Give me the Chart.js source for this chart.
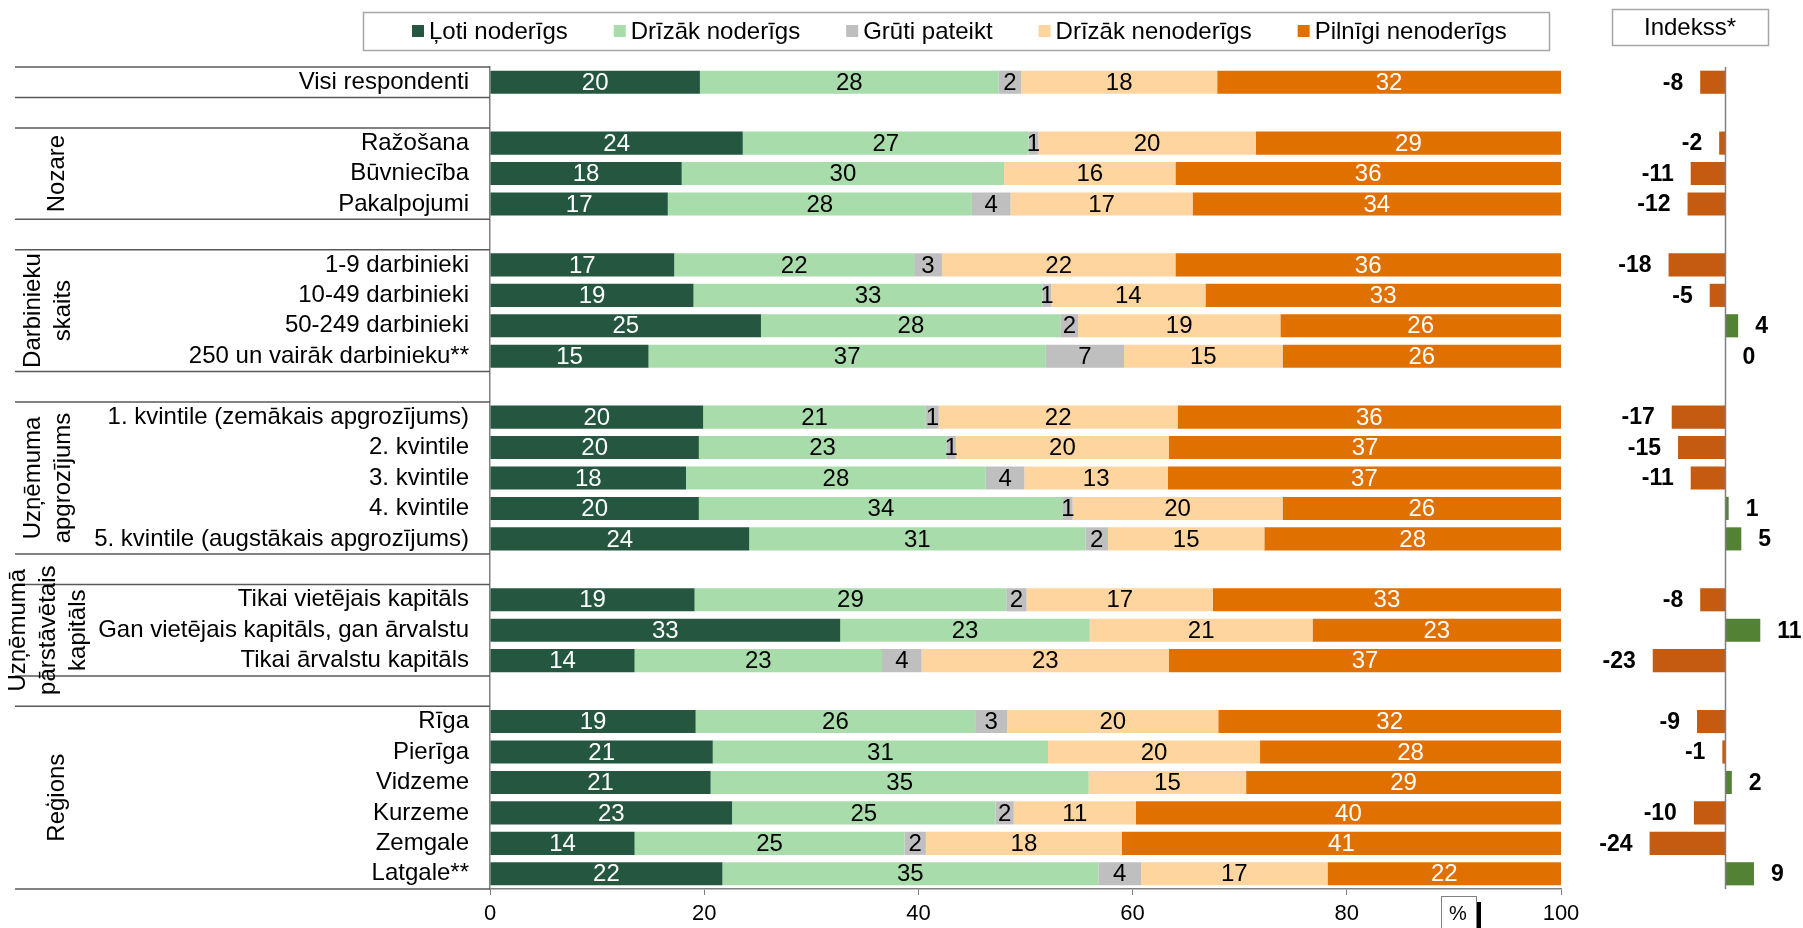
<!DOCTYPE html>
<html lang="lv">
<head>
<meta charset="utf-8">
<title>Indekss</title>
<script src="https://cdn.jsdelivr.net/npm/chart.js@4.4.1/dist/chart.umd.min.js"></script>
<style>
    html, body { margin: 0; padding: 0; background: #fff; }
    #wrap { position: relative; width: 1803px; height: 928px; overflow: hidden; }
    #bars-chart { position: absolute; left: 0; top: 0; }
    #index-chart { position: absolute; left: 1580px; top: 0; }
</style>
</head>
<body>
<div id="wrap">
    <canvas id="bars-chart" width="1803" height="928"></canvas>
    <canvas id="index-chart" width="223" height="928"></canvas>
</div>
<script>
"use strict";

// rows of the chart, '' = empty separator row
const categories = [
    'Visi respondenti', '',
    'Ražošana', 'Būvniecība', 'Pakalpojumi', '',
    '1-9 darbinieki', '10-49 darbinieki', '50-249 darbinieki', '250 un vairāk darbinieku**', '',
    '1. kvintile (zemākais apgrozījums)', '2. kvintile', '3. kvintile', '4. kvintile', '5. kvintile (augstākais apgrozījums)', '',
    'Tikai vietējais kapitāls', 'Gan vietējais kapitāls, gan ārvalstu', 'Tikai ārvalstu kapitāls', '',
    'Rīga', 'Pierīga', 'Vidzeme', 'Kurzeme', 'Zemgale', 'Latgale**'
];

const seriesNames = ['Ļoti noderīgs', 'Drīzāk noderīgs', 'Grūti pateikt', 'Drīzāk nenoderīgs', 'Pilnīgi nenoderīgs'];

const lotiNoderigs = [19.6, null, 23.6, 17.9, 16.6, null, 17.2, 19.0, 25.3, 14.8, null, 19.9, 19.5, 18.3, 19.5, 24.2, null, 19.1, 32.7, 13.5, null, 19.2, 20.8, 20.6, 22.6, 13.5, 21.7];
const drizakNoderigs = [27.9, null, 26.7, 30.1, 28.4, null, 22.4, 32.6, 28.0, 37.1, null, 20.8, 23.1, 28.0, 34.0, 31.4, null, 29.1, 23.3, 23.1, null, 26.1, 31.3, 35.3, 24.6, 25.2, 35.1];
const grutiPateikt = [2.1, null, 0.9, 0, 3.6, null, 2.6, 0.8, 1.6, 7.3, null, 1.2, 0.9, 3.6, 0.9, 2.1, null, 1.9, 0, 3.7, null, 3.0, 0, 0, 1.7, 2.0, 4.0];
const drizakNenoderigs = [18.3, null, 20.3, 16.0, 17.0, null, 21.8, 14.4, 18.9, 14.8, null, 22.3, 19.9, 13.4, 19.6, 14.6, null, 17.4, 20.8, 23.1, null, 19.7, 19.8, 14.7, 11.4, 18.3, 17.4];
const pilnigiNenoderigs = [32.1, null, 28.5, 36.0, 34.4, null, 36.0, 33.2, 26.2, 26.0, null, 35.8, 36.6, 36.7, 26.0, 27.7, null, 32.5, 23.2, 36.6, null, 32.0, 28.1, 29.4, 39.7, 41.0, 21.8];

const indekss = [-8, null, -2, -11, -12, null, -18, -5, 4, 0, null, -17, -15, -11, 1, 5, null, -8, 11, -23, null, -9, -1, 2, -10, -24, 9];

const xTicks = [0, 20, 40, 60, 80, 100];

// groups of rows (first and last row index) with their rotated titles
const groupNames = [[], ['Nozare'], ['Darbinieku', 'skaits'], ['Uzņēmuma', 'apgrozījums'], ['Uzņēmumā', 'pārstāvētais', 'kapitāls'], ['Reģions']];
const groupFirst = [0, 2, 6, 11, 17, 21];
const groupLast = [0, 4, 9, 15, 19, 26];

const FONT = "'Liberation Sans', Arial, sans-serif";
Chart.defaults.font.family = FONT;
Chart.defaults.color = '#000';

/**
 * Writes the rounded value in the middle of every segment
 */
const barLabels = {
    id: 'barLabels',
    afterDatasetsDraw(chart) {
        const {ctx} = chart;
        ctx.save();
        ctx.font = '24px ' + FONT;
        ctx.textAlign = 'center';
        ctx.textBaseline = 'middle';
        chart.data.datasets.forEach((dataset, i) => {
            chart.getDatasetMeta(i).data.forEach((bar, j) => {
                const value = dataset.data[j];
                if (value == null || Math.round(value) === 0) {
                    return;
                }
                ctx.fillStyle = dataset.labelColor;
                ctx.fillText(Math.round(value), (bar.x + bar.base) / 2, bar.y + 1);
            });
        });
        ctx.restore();
    }
};

/**
 * Row separators, group titles, legend and small boxes
 */
const decorations = {
    id: 'decorations',
    afterDraw(chart) {
        const {ctx, chartArea: {left, top, bottom}, scales: {y}} = chart;
        const slot = (bottom - top) / categories.length;

        ctx.save();
        // separators
        ctx.strokeStyle = '#595959';
        ctx.lineWidth = 1.5;
        groupFirst.forEach((first, g) => {
            const y1 = y.getPixelForValue(first) - slot / 2;
            const y2 = y.getPixelForValue(groupLast[g]) + slot / 2;
            [y1, y2].forEach(yy => {
                ctx.beginPath();
                ctx.moveTo(15, yy);
                ctx.lineTo(left, yy);
                ctx.stroke();
            });

            // group title, rotated
            const lines = groupNames[g];
            if (!lines.length) {
                return;
            }
            const cx = lines.length === 1 ? 57 : 48;
            ctx.save();
            ctx.translate(cx, (y1 + y2) / 2);
            ctx.rotate(-Math.PI / 2);
            ctx.font = '24px ' + FONT;
            ctx.fillStyle = '#000';
            ctx.textAlign = 'center';
            ctx.textBaseline = 'middle';
            lines.forEach((line, k) => {
                ctx.fillText(line, 0, (k - (lines.length - 1) / 2) * 30);
            });
            ctx.restore();
        });

        // legend
        ctx.strokeStyle = '#A6A6A6';
        ctx.lineWidth = 1.5;
        ctx.strokeRect(363.5, 12.5, 1186, 38);
        ctx.font = '24px ' + FONT;
        ctx.textAlign = 'left';
        ctx.textBaseline = 'middle';
        let x = 412;
        chart.data.datasets.forEach(dataset => {
            ctx.fillStyle = dataset.backgroundColor;
            ctx.fillRect(x, 25, 12, 12);
            ctx.fillStyle = '#000';
            ctx.fillText(dataset.label, x + 17, 32);
            x += 17 + ctx.measureText(dataset.label).width + 46;
        });

        // index title box
        ctx.strokeRect(1612.5, 9.5, 156, 36);
        ctx.textAlign = 'center';
        ctx.fillText('Indekss*', 1690, 28);

        // % box
        ctx.fillStyle = '#000';
        ctx.fillRect(1476, 902, 5, 30);
        ctx.fillStyle = '#fff';
        ctx.fillRect(1441, 896, 35, 36);
        ctx.strokeStyle = '#808080';
        ctx.lineWidth = 1;
        ctx.strokeRect(1441.5, 896.5, 35, 36);
        ctx.fillStyle = '#000';
        ctx.font = '20px ' + FONT;
        ctx.fillText('%', 1458, 914);
        ctx.restore();
    }
};

const barres = (function () {
    const ctx = document.getElementById('bars-chart');
    const colors = ['#255740', '#A9DCAB', '#BFBFBF', '#FED59F', '#E07000'];
    const labelColors = ['#fff', '#000', '#000', '#000', '#fff'];
    const series = [lotiNoderigs, drizakNoderigs, grutiPateikt, drizakNenoderigs, pilnigiNenoderigs];

    function init() {
        const config = {
            type: 'bar',
            data: {
                labels: categories,
                datasets: series.map((data, i) => ({
                    label: seriesNames[i],
                    data: data,
                    backgroundColor: colors[i],
                    labelColor: labelColors[i],
                    barPercentage: 0.76,
                    categoryPercentage: 1
                }))
            },
            options: {
                indexAxis: 'y',
                responsive: false,
                animation: false,
                layout: {padding: {top: 67, right: 242, left: 0, bottom: 0}},
                plugins: {
                    legend: {display: false},
                    tooltip: {enabled: false}
                },
                scales: {
                    x: {
                        stacked: true,
                        min: 0,
                        max: 100,
                        afterBuildTicks: scale => {
                            scale.ticks = xTicks.map(v => ({value: v}));
                        },
                        afterFit: scale => {
                            scale.height = 39;
                        },
                        grid: {drawOnChartArea: false, tickLength: 6, color: '#808080'},
                        border: {color: '#808080', width: 1.5},
                        ticks: {font: {size: 22}, padding: 6, maxRotation: 0}
                    },
                    y: {
                        stacked: true,
                        afterFit: scale => {
                            scale.width = 490;
                        },
                        grid: {display: false},
                        border: {color: '#808080', width: 1.5},
                        ticks: {font: {size: 24}, padding: 13, autoSkip: false}
                    }
                }
            },
            plugins: [barLabels, decorations]
        };
        return new Chart(ctx, config);
    }

    return {init};
})();

/**
 * Zero line and labels of the index chart
 */
const indexDecor = {
    id: 'indexDecor',
    afterDatasetsDraw(chart) {
        const {ctx, chartArea: {top, bottom}, scales: {x}} = chart;
        const zero = x.getPixelForValue(0);
        ctx.save();
        ctx.strokeStyle = '#808080';
        ctx.lineWidth = 1.5;
        ctx.beginPath();
        ctx.moveTo(zero, top);
        ctx.lineTo(zero, bottom);
        ctx.stroke();

        ctx.font = 'bold 23px ' + FONT;
        ctx.fillStyle = '#000';
        ctx.textBaseline = 'middle';
        chart.getDatasetMeta(0).data.forEach((bar, j) => {
            const value = indekss[j];
            if (value == null) {
                return;
            }
            if (value < 0) {
                ctx.textAlign = 'right';
                ctx.fillText(value, bar.x - 17, bar.y + 1);
            } else {
                ctx.textAlign = 'left';
                ctx.fillText(value, bar.x + 17, bar.y + 1);
            }
        });
        ctx.restore();
    }
};

const index = (function () {
    const ctx = document.getElementById('index-chart');

    function init() {
        const config = {
            type: 'bar',
            data: {
                labels: categories,
                datasets: [{
                    label: 'Indekss*',
                    data: indekss,
                    backgroundColor: indekss.map(v => v < 0 ? '#C55A11' : '#548235'),
                    barPercentage: 0.76,
                    categoryPercentage: 1
                }]
            },
            options: {
                indexAxis: 'y',
                responsive: false,
                animation: false,
                layout: {padding: {top: 67, bottom: 39, left: 0, right: 0}},
                plugins: {
                    legend: {display: false},
                    tooltip: {enabled: false}
                },
                scales: {
                    x: {display: false, min: -46, max: 24.5},
                    y: {display: false}
                }
            },
            plugins: [indexDecor]
        };
        return new Chart(ctx, config);
    }

    return {init};
})();

barres.init();
index.init();
</script>
</body>
</html>
